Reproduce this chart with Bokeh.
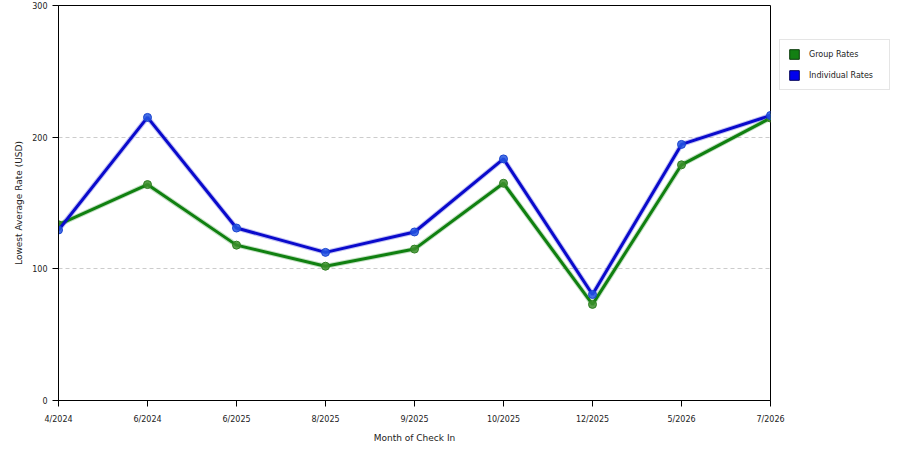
import numpy as np
from bokeh.plotting import figure
from bokeh.models import ColumnDataSource, Legend, LegendItem, Range1d, FixedTicker
from bokeh.embed import file_html
from bokeh.resources import INLINE

months = ["4/2024", "6/2024", "6/2025", "8/2025", "9/2025", "10/2025", "12/2025", "5/2026", "7/2026"]
group_rates = [133.5, 164, 118, 102, 115, 165, 73, 179, 214.5]
individual_rates = [129.5, 215, 131, 112.5, 128, 183.5, 80.5, 194.5, 216.5]
y_ticks = [0, 100, 200, 300]

xs = list(range(len(months)))
src = ColumnDataSource(dict(x=xs, g=group_rates, i=individual_rates))

FONT = "DejaVu Sans"

p = figure(frame_width=712, frame_height=395, output_backend="svg", toolbar_location=None,
           x_range=Range1d(0, len(months) - 1), y_range=Range1d(0, 300),
           min_border_left=58, min_border_right=10, min_border_top=5, min_border_bottom=10)
p.outline_line_color = "black"
p.outline_line_width = 1
p.background_fill_color = "white"
p.border_fill_color = "white"

p.xgrid.visible = False
p.ygrid.grid_line_color = "#cccccc"
p.ygrid.grid_line_dash = "4 3"
p.ygrid.ticker = FixedTicker(ticks=y_ticks)

p.xaxis.ticker = FixedTicker(ticks=xs)
p.xaxis.major_label_overrides = {i: m for i, m in enumerate(months)}
p.yaxis.ticker = FixedTicker(ticks=y_ticks)

for ax in (p.xaxis[0], p.yaxis[0]):
    ax.axis_line_color = "black"
    ax.major_tick_line_color = "black"
    ax.major_tick_out = 6
    ax.major_tick_in = 0
    ax.minor_tick_line_color = None
    ax.major_label_text_font = FONT
    ax.major_label_text_font_size = "8px"
    ax.major_label_text_color = "#222222"
    ax.axis_label_text_font = FONT
    ax.axis_label_text_font_size = "9px"
    ax.axis_label_text_font_style = "normal"
    ax.axis_label_text_color = "#222222"

p.xaxis.axis_label = "Month of Check In"
p.yaxis.axis_label = "Lowest Average Rate (USD)"
p.xaxis.major_label_standoff = 8
p.xaxis.axis_label_standoff = 6
p.yaxis.major_label_standoff = 5
p.yaxis.axis_label_standoff = 5

green = "#108010"
blue = "#0a0acc"

p.line("x", "g", source=src, line_color=green, line_width=5, line_alpha=0.25)
p.line("x", "i", source=src, line_color=blue, line_width=5, line_alpha=0.25)
p.line("x", "g", source=src, line_color=green, line_width=3)
p.scatter("x", "g", source=src, size=8, fill_color="#3c8f2c", line_color="#2f7f22", fill_alpha=0.85)
p.line("x", "i", source=src, line_color=blue, line_width=3)
p.scatter("x", "i", source=src, size=8, fill_color="#2456e0", line_color="#1a44d0", fill_alpha=0.85)

nan_src = ColumnDataSource(dict(l=np.array([np.nan]), r=np.array([np.nan]),
                                b=np.array([np.nan]), t=np.array([np.nan])))
lg = p.quad(left="l", right="r", bottom="b", top="t", source=nan_src, fill_color="#138013", line_color="#0a3a0a")
li = p.quad(left="l", right="r", bottom="b", top="t", source=nan_src, fill_color="#0000ee", line_color="#00005a")

legend = Legend(items=[LegendItem(label="Group Rates", renderers=[lg]),
                       LegendItem(label="Individual Rates", renderers=[li])],
                location=(9, 310))
legend.label_text_font = FONT
legend.label_text_font_size = "8px"
legend.label_text_color = "#222222"
legend.glyph_width = 12
legend.glyph_height = 12
legend.label_height = 12
legend.label_width = 72
legend.label_standoff = 9
legend.spacing = 9
legend.padding = 8
legend.margin = 0
legend.border_line_color = "#cccccc"
legend.border_line_width = 1
legend.background_fill_color = "white"
p.add_layout(legend, "right")

open("out.html", "w").write(file_html(p, INLINE))
